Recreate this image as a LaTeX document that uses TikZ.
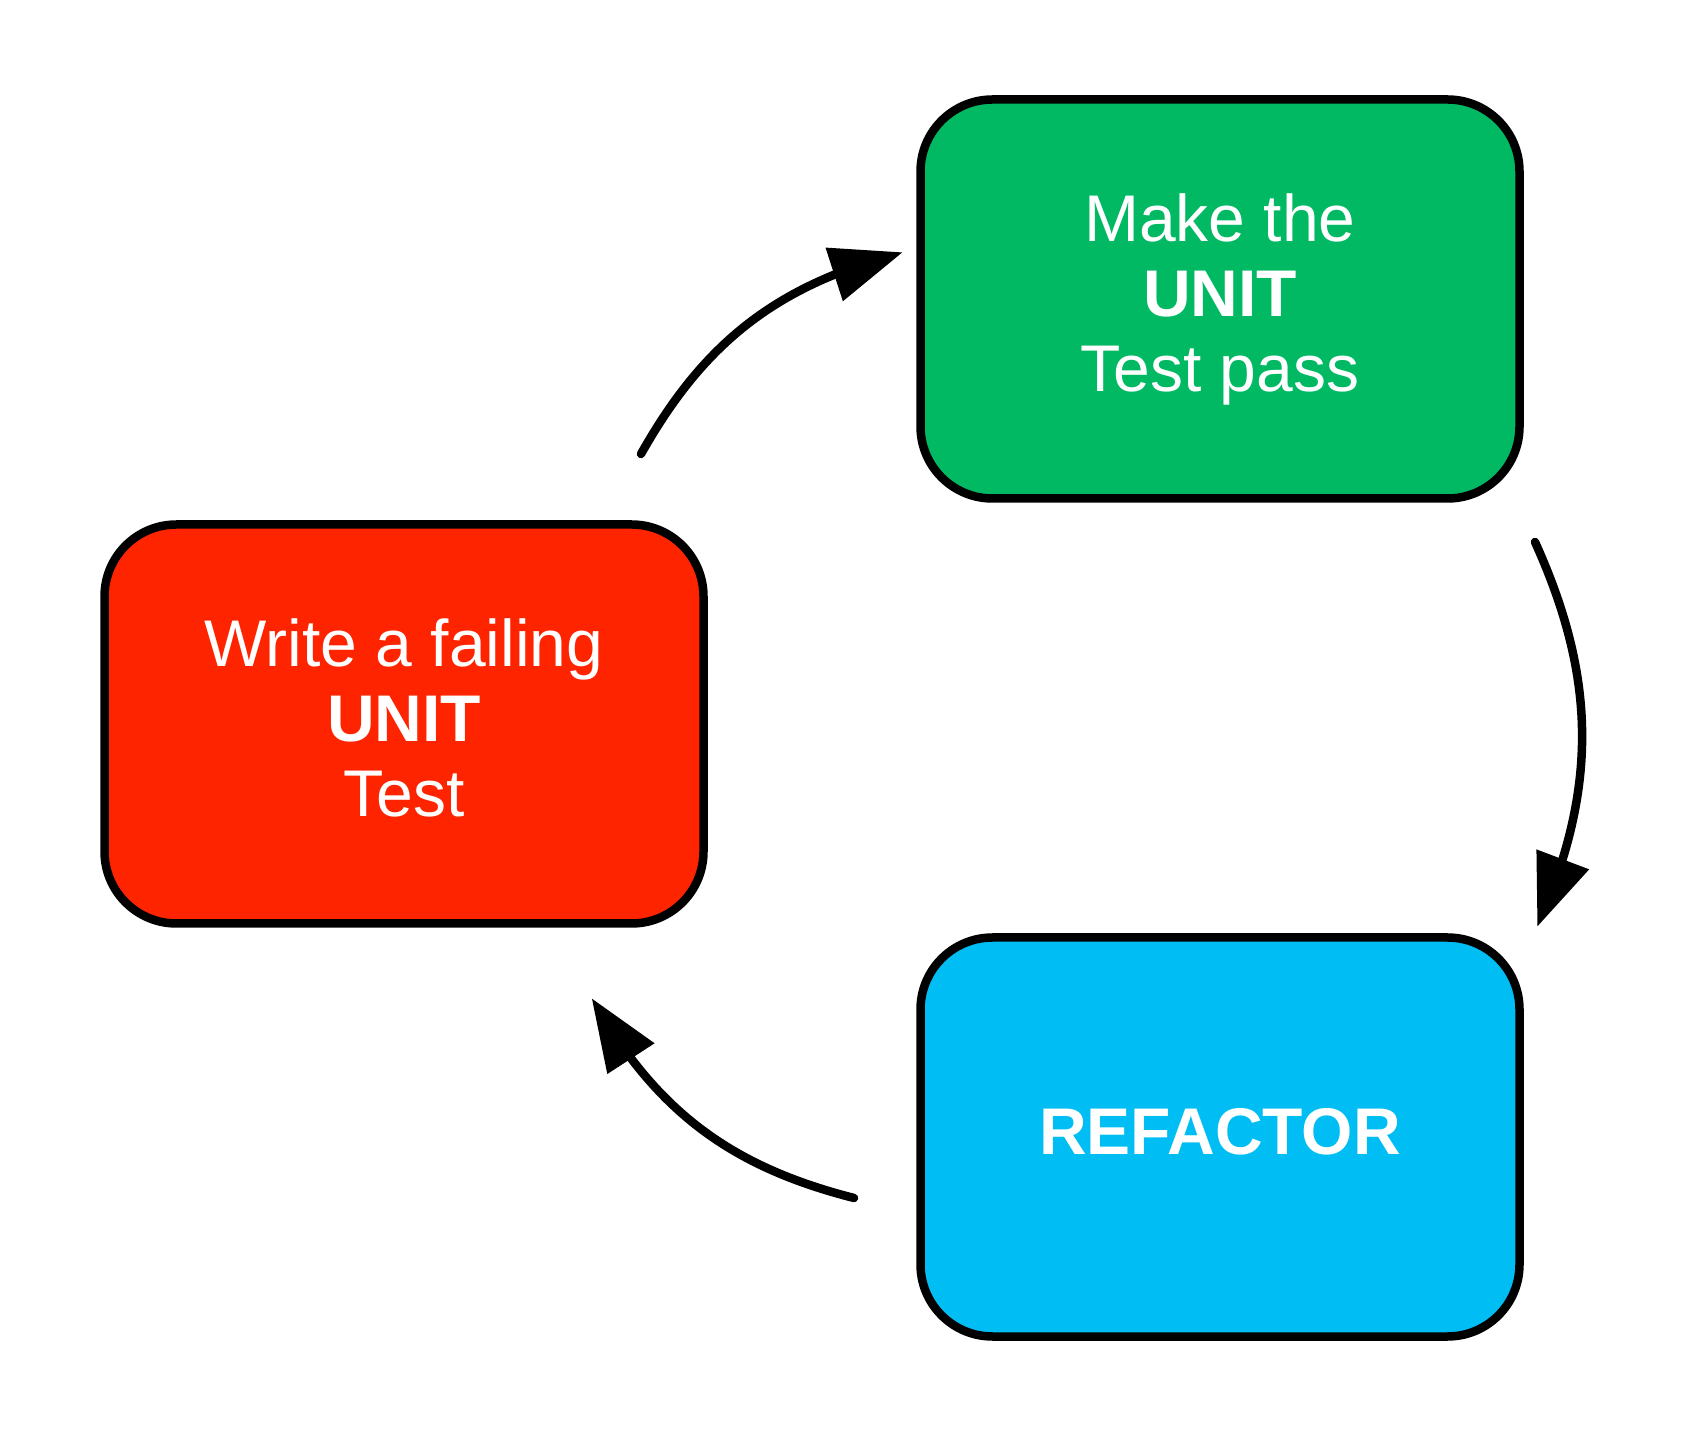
\documentclass[tikz,border=0pt]{standalone}
\usepackage{fontspec}
\setmainfont{Liberation Sans}
\usetikzlibrary{arrows.meta,bending}
\definecolor{failred}{RGB}{255,36,0}
\definecolor{passgreen}{RGB}{0,185,98}
\definecolor{refblue}{RGB}{0,190,243}
\tikzset{
  centered/.style = { align=center, anchor=center },
     stage/.style = { draw=black, line width=8.5pt, rounded corners=72pt, centered,
                      text=white, inner sep=0pt, text depth=12pt,
                      minimum width=599pt, minimum height=399pt,
                      font=\fontsize{66}{75}\selectfont },
     arrow/.style = { line width=8.5pt, line cap=round, -{Triangle[length=72pt,width=54pt,flex]} }
}

\begin{document}
\begin{tikzpicture}[x=1pt,y=1pt]
  \useasboundingbox (0,0) rectangle (1708,1433);

  \node [stage, fill=failred]   (write)    at (404,709)   {Write a failing\\\textbf{UNIT}\\Test};
  \node [stage, fill=passgreen] (pass)     at (1220,1134) {Make the\\\textbf{UNIT}\\Test pass};
  \node [stage, fill=refblue]   (refactor) at (1220,296)  {\textbf{REFACTOR}};

  % free ends of the cycle arrows
  \coordinate (write out)    at (641,979);
  \coordinate (pass in)      at (902.7,1180.7);
  \coordinate (pass out)     at (1535,891);
  \coordinate (refactor in)  at (1537.3,506.3);
  \coordinate (refactor out) at (854,235);
  \coordinate (write in)     at (591.7,434.7);

  \draw [arrow] (write out) to [bend left=23] (pass in);
  \draw [arrow] (pass out) to [bend left=24] (refactor in);
  \draw [arrow] (refactor out) to [bend left=23] (write in);
\end{tikzpicture}
\end{document}
